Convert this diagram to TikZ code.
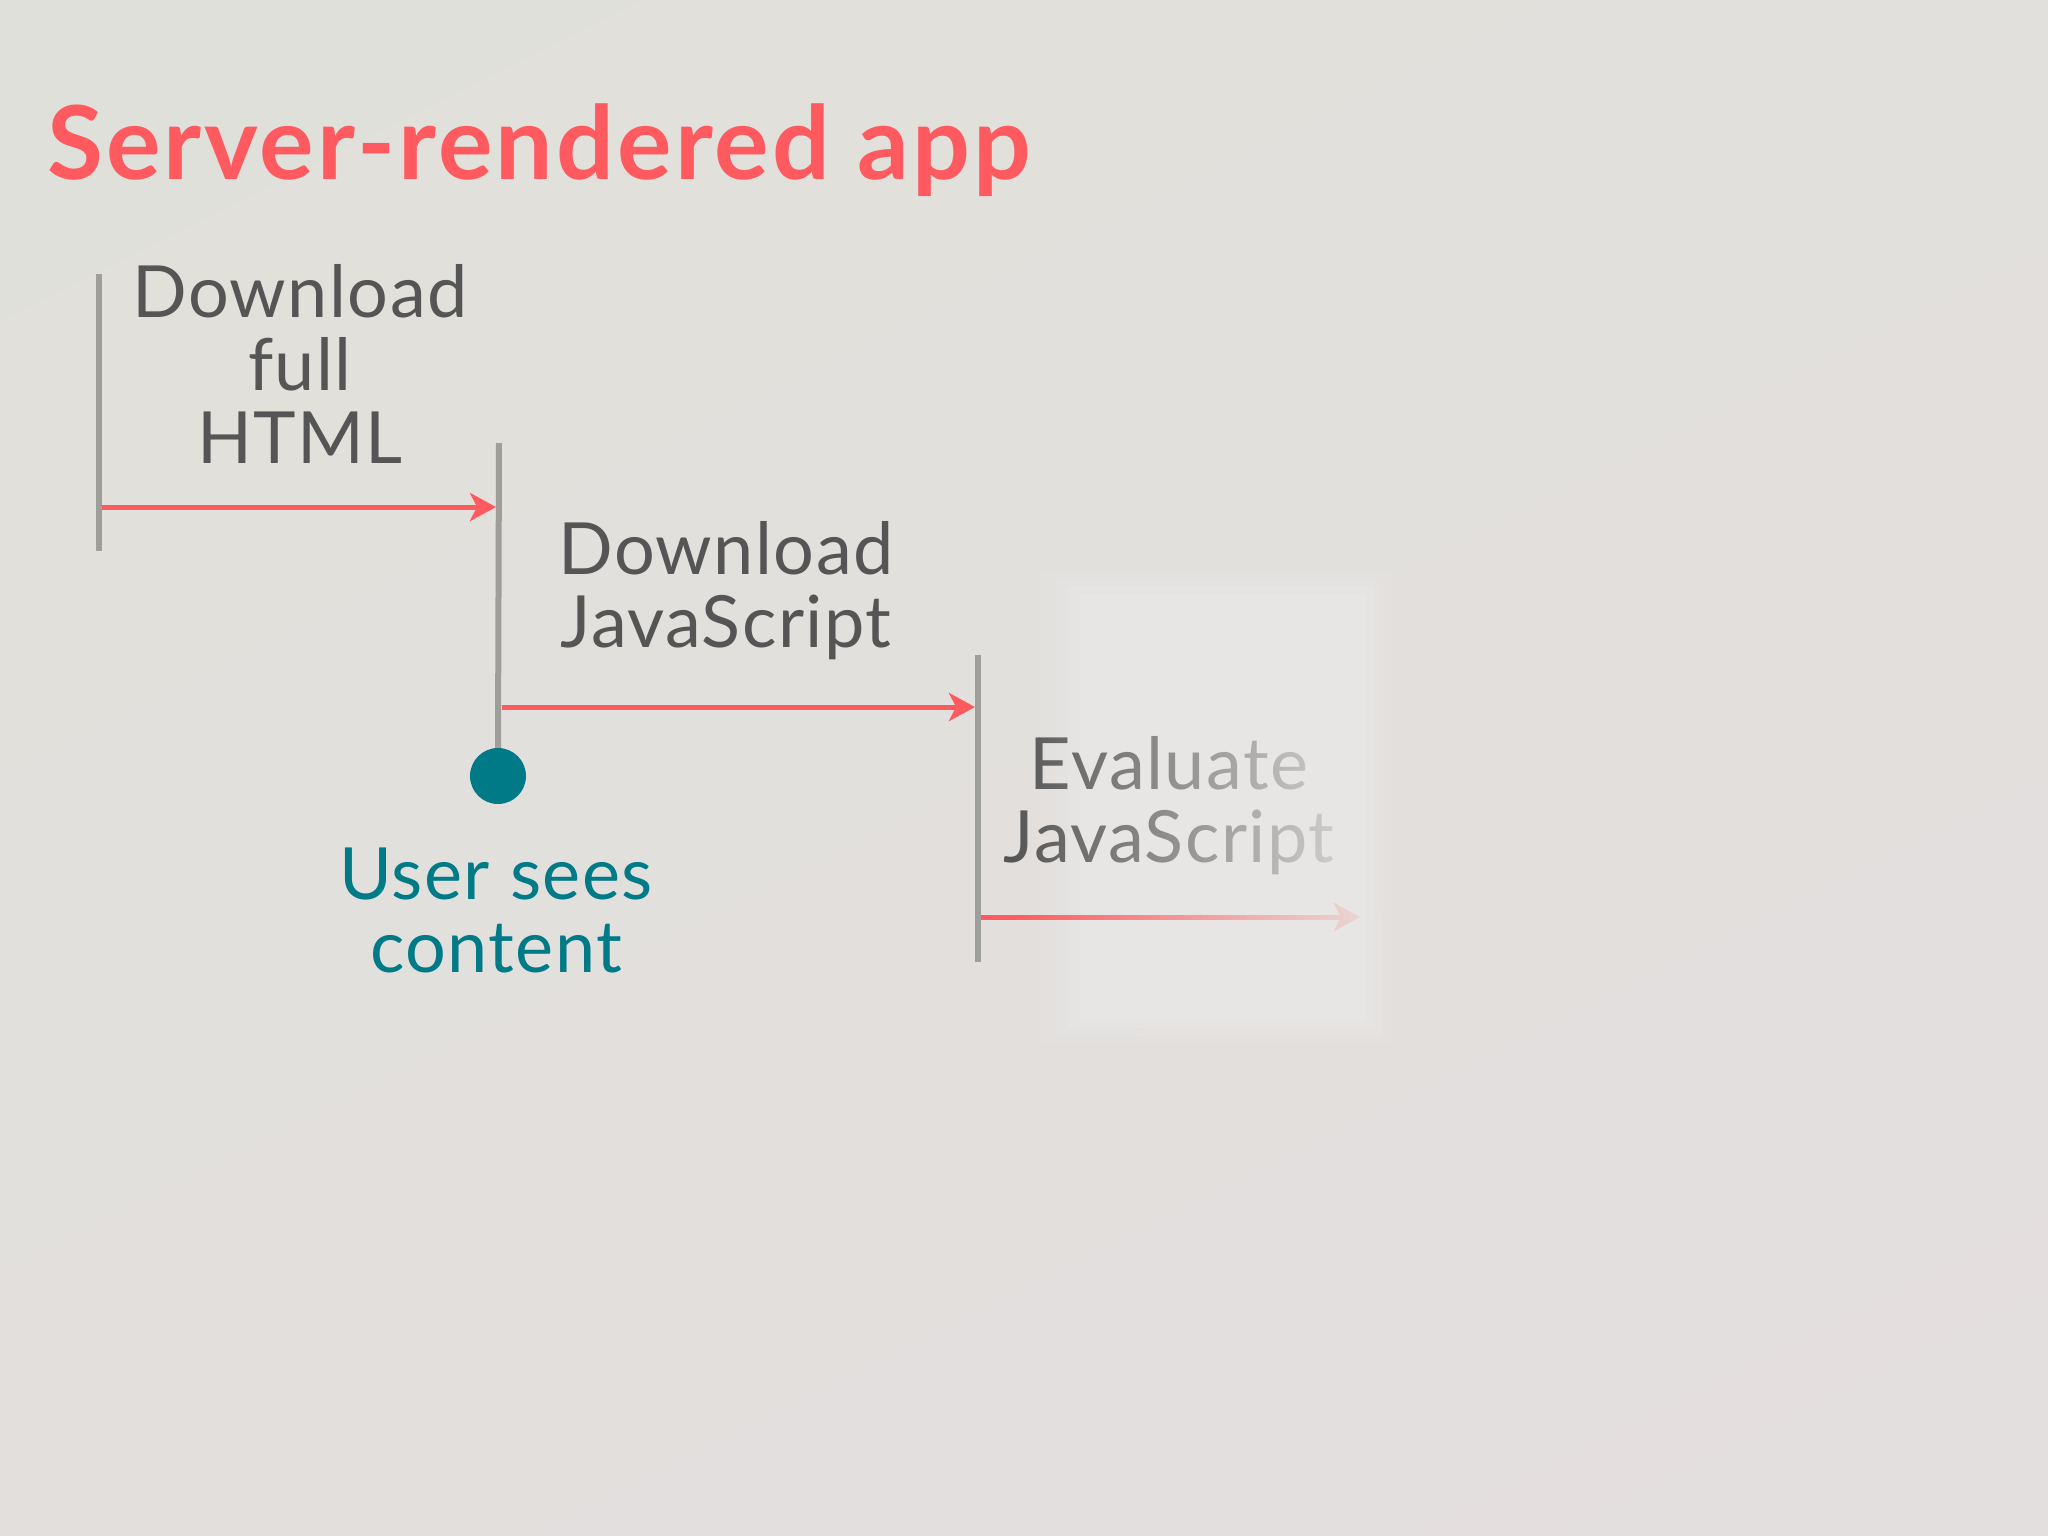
\documentclass[tikz,border=0pt]{standalone}
\usepackage{fontspec}
\setmainfont{Lato}
\usetikzlibrary{arrows.meta,fadings,shadings}
\definecolor{bgA}{RGB}{224,224,218}
\definecolor{bgB}{RGB}{228,223,223}
\definecolor{boxc}{RGB}{231,230,228}
\definecolor{rausch}{RGB}{255,90,95}
\definecolor{kazan}{RGB}{0,122,135}
\definecolor{txtgray}{RGB}{85,85,85}
\definecolor{rulegray}{RGB}{158,158,154}
\tikzfading[name=faderight, left color=transparent!100, right color=transparent!10]
\begin{document}
\begin{tikzpicture}[x=1pt,y=-1pt,
  lane/.style={draw=rulegray, line width=6pt},
  flow/.style={draw=rausch, line width=5pt, -{Stealth[length=26pt,width=28pt,inset=7pt]}},
  lbl/.style={font=\fontsize{72}{73}\selectfont\addfontfeature{LetterSpace=2}, text=txtgray, align=center, inner sep=0pt, anchor=base},
  userlbl/.style={lbl, text=kazan},
  titlestyle/.style={font=\fontsize{102}{110}\selectfont\bfseries\addfontfeature{LetterSpace=3}, text=rausch, anchor=base west, inner sep=0pt}
]
\useasboundingbox (0,0) rectangle (2048,1536);
\shade[upper left=bgA, upper right=bgA!60!bgB, lower left=bgA!40!bgB, lower right=bgB] (0,0) rectangle (2048,1536);

% soft light panel
\fill[boxc, opacity=0.25] (1040,570) rectangle (1392,1045);
\fill[boxc, opacity=0.35] (1055,578) rectangle (1382,1036);
\fill[boxc, opacity=0.5] (1068,586) rectangle (1374,1028);
\fill[boxc] (1080,594) rectangle (1366,1020);

\node[titlestyle] (title) at (47,179) {Server-rendered app};

% lanes
\coordinate (l1t) at (99,274);
\coordinate (l1b) at (99,551);
\coordinate (l2t) at (499,443);
\coordinate (l3t) at (978,655);
\coordinate (l3b) at (978,962);
\draw[lane] (l1t) -- (l1b);
\node[circle, fill=kazan, minimum size=56pt, inner sep=0pt] (dot) at (498,776) {};
\draw[lane] (l2t) -- (dot.north);
\draw[lane] (l3t) -- (l3b);

% arrows
\coordinate (a1s) at (102,507);
\coordinate (a1e) at (496,507);
\coordinate (a2s) at (502,707);
\coordinate (a2e) at (975,707);
\coordinate (a3s) at (981,917);
\coordinate (a3e) at (1360,917);
\draw[flow] (a1s) -- (a1e);
\draw[flow] (a2s) -- (a2e);

% labels (anchor base = last line baseline)
\node[lbl] (dlhtml) at (300,463) {Download\\full\\HTML};
\node[lbl] (dljs) at (726,647) {Download\\JavaScript};
\node[userlbl] (user) at (496,972) {User sees\\content};

% evaluate (fading)
\draw[flow] (a3s) -- (a3e);
\node[lbl] (evaljs) at (1169,862) {Evaluate\\JavaScript};
\fill[boxc, path fading=faderight] (1010,718) rectangle (1366,940);
\end{tikzpicture}
\end{document}
